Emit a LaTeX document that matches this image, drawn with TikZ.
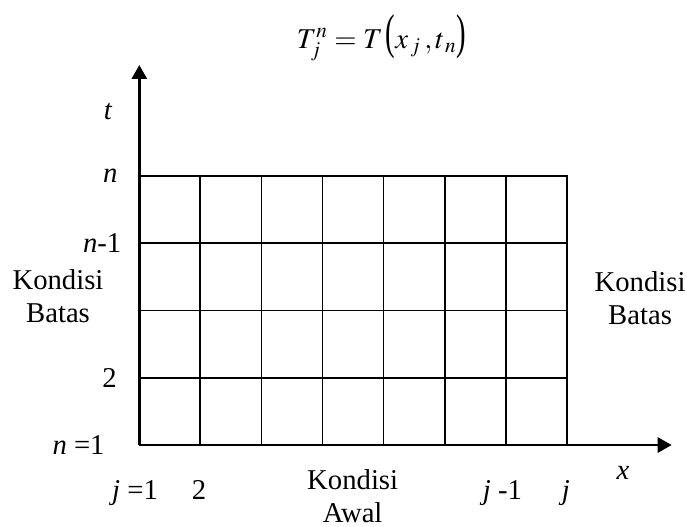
\documentclass[tikz,border=0pt]{standalone}
\usepackage{mathptmx}
\usepackage[no-math]{fontspec}
\setmainfont{Liberation Serif}
\usetikzlibrary{arrows.meta}

\newcommand{\tallparen}[1]{\scalebox{1}[1.7]{#1}}

\begin{document}
\begin{tikzpicture}[x=30.535pt, y=33.625pt,
  font=\fontsize{14.35}{16.65}\selectfont,
  lbl/.style={inner sep=0pt},
  gridline/.style={line width=0.9pt},
  axis/.style={line width=1.4pt, -{Triangle[length=7pt,width=7.5pt]}}]
\useasboundingbox (-2.281,-1.2045) rectangle (8.968,6.617);

\coordinate (O) at (0,0);
\coordinate (X) at (8.718,0);
\coordinate (T) at (0,5.651);

% grid
\foreach \i in {1,...,6}{
  \draw[gridline] (\i,0) -- (\i,4);
}
\foreach \k in {1,2,3}{
  \draw[gridline] (0,\k) -- (7,\k);
}
\draw[line width=1.1pt] (0,4) -- (7,4) -- (7,0);

% axes
\draw[axis] (O) -- (X);
\draw[axis] (O) -- (T);

\node[lbl, anchor=base] (eq) at (3.966,5.903)
  {$T_j^n = T\,\tallparen{(}x_{\,j}\,,t_{\,n}\tallparen{)}$};

% t labels
\node[lbl, anchor=base] (tlab) at (-0.51,4.843) {\textit{t}};
\node[lbl, anchor=east] (n4) at (-0.349,4) {\textit{n}};
\node[lbl, anchor=east] (n3) at (-0.288,3) {\textit{n}-1};
\node[lbl, anchor=east] (n1) at (-0.365,1) {2};
\node[lbl, anchor=east] (n0) at (-0.562,0) {\textit{n} =1};

% x labels
\node[lbl, anchor=base] (j0) at (-0.07,-0.803) {\textit{j} =1};
\node[lbl, anchor=base] (j1) at (0.979,-0.803) {2};
\node[lbl, anchor=base] (j6) at (5.947,-0.803) {\textit{j} -1};
\node[lbl, anchor=base] (j7) at (6.984,-0.803) {\textit{j}};
\node[lbl, anchor=base] (xlab) at (7.92,-0.520) {\textit{x}};

% conditions
\node[lbl, anchor=south, align=center] (left) at (-1.331,1.810) {Kondisi\\Batas};
\node[lbl, anchor=south, align=center] (right) at (8.199,1.784) {Kondisi\\Batas};
\node[lbl, anchor=south, align=center] (init) at (3.494,-1.164) {Kondisi\\Awal};
\end{tikzpicture}
\end{document}
